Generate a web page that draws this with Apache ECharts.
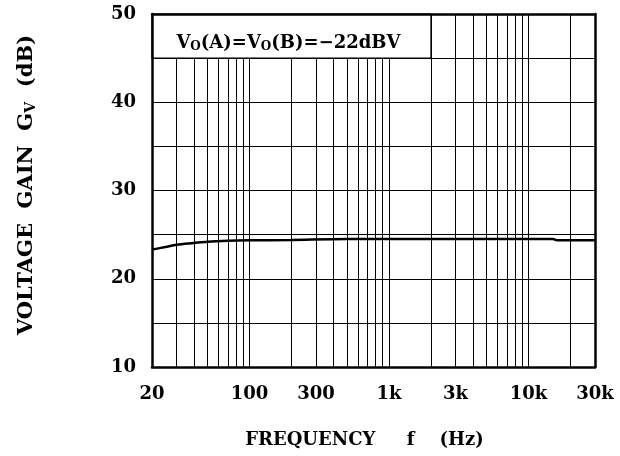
<!DOCTYPE html>
<html>
<head>
<meta charset="utf-8">
<script src="https://cdn.jsdelivr.net/npm/echarts@6/dist/echarts.min.js"></script>
<style>
html,body{margin:0;padding:0;background:#fff;}
#chart{width:620px;height:456px;}
</style>
</head>
<body>
<div id="chart"></div>
<script>
// ---- data ----
const freqHz   = [20, 25, 30, 40, 50, 70, 100, 200, 500, 1000, 5000, 15000, 16000, 30000];
const gainDb   = [23.3, 23.6, 23.85, 24.05, 24.2, 24.3, 24.35, 24.4, 24.5, 24.5, 24.5, 24.5, 24.35, 24.35];
const xTickValues = [20, 100, 300, 1000, 3000, 10000, 30000];
const xTickLabels = ['20', '100', '300', '1k', '3k', '10k', '30k'];
const xGridValues = [30, 40, 50, 60, 70, 80, 90, 100, 200, 300, 400, 500, 600, 700, 800, 900,
                     1000, 2000, 3000, 4000, 5000, 6000, 7000, 8000, 9000, 10000, 20000];
const yTickValues = [10, 20, 30, 40, 50];
const boxFreq = [20, 2000];
const boxGain = [45, 50];

const FONT = 'DejaVu Serif';
const chart = echarts.init(document.getElementById('chart'), null, {renderer: 'canvas'});

const frameAxis = {
  show: true,
  axisLine: {show: true, lineStyle: {color: '#000', width: 2.5}},
  axisTick: {show: false},
  axisLabel: {show: false},
  splitLine: {show: false},
  z: 10
};

chart.setOption({
  backgroundColor: '#fff',
  animation: false,
  grid: {left: 152, right: 25, top: 14, bottom: 89, containLabel: false},
  xAxis: [{
    type: 'log', logBase: 10, min: 20, max: 30000,
    position: 'bottom',
    name: 'FREQUENCY     f    (Hz)',
    nameLocation: 'middle', nameGap: 64,
    nameTextStyle: {fontFamily: FONT, fontWeight: 'bold', fontSize: 18, color: '#000', padding: [0, 18, 0, 0]},
    axisLine: {show: true, lineStyle: {color: '#000', width: 2.5}},
    axisTick: {show: false},
    splitLine: {show: false},
    axisLabel: {
      customValues: xTickValues,
      margin: 18,
      fontFamily: FONT, fontWeight: 'bold', fontSize: 18, color: '#000',
      formatter: function (v) {
        for (let i = 0; i < xTickValues.length; i++) {
          if (Math.abs(v - xTickValues[i]) / xTickValues[i] < 1e-6) return xTickLabels[i];
        }
        return '';
      }
    },
    z: 10
  }, Object.assign({type: 'log', logBase: 10, min: 20, max: 30000, position: 'top'}, frameAxis)],
  yAxis: [{
    type: 'value', min: 10, max: 50, interval: 5,
    position: 'left',
    name: 'VOLTAGE  GAIN  G{sub|V}  (dB)',
    nameLocation: 'middle', nameGap: 114, nameRotate: 90,
    nameTextStyle: {
      fontFamily: FONT, fontWeight: 'bold', fontSize: 21, color: '#000',
      padding: [0, 0, 0, 11],
      rich: {sub: {fontFamily: FONT, fontWeight: 'bold', fontSize: 14, color: '#000', padding: [9, 0, 0, 0]}}
    },
    axisLine: {show: true, lineStyle: {color: '#000', width: 2.5}},
    axisTick: {show: false},
    splitLine: {show: true, lineStyle: {color: '#000', width: 1}},
    axisLabel: {
      margin: 16,
      fontFamily: FONT, fontWeight: 'bold', fontSize: 18, color: '#000',
      formatter: function (v) { return yTickValues.indexOf(v) >= 0 ? String(v) : ''; }
    },
    z: 10
  }, Object.assign({type: 'value', min: 10, max: 50, position: 'right'}, frameAxis)],
  series: [{
    type: 'line',
    data: freqHz.map((f, i) => [f, gainDb[i]]),
    smooth: 0.3,
    symbol: 'none',
    lineStyle: {color: '#000', width: 2.5},
    z: 4,
    silent: true,
    markLine: {
      z: 3,
      silent: true,
      symbol: ['none', 'none'],
      label: {show: false},
      lineStyle: {color: '#000', width: 1, type: 'solid'},
      emphasis: {disabled: true},
      data: xGridValues.map(v => ({xAxis: v}))
    },
    markArea: {
      z: 6,
      silent: true,
      itemStyle: {color: '#fff', borderColor: '#000', borderWidth: 1.2},
      label: {
        show: true, position: 'inside', offset: [-3, 7],
        fontFamily: FONT, fontWeight: 'bold', fontSize: 18, color: '#000',
        formatter: 'V{sub|O}(A)=V{sub|O}(B)=\u221222dBV',
        rich: {sub: {fontFamily: FONT, fontWeight: 'bold', fontSize: 12, color: '#000', padding: [8, 0, 0, 0]}}
      },
      data: [[{xAxis: boxFreq[0], yAxis: boxGain[0]}, {xAxis: boxFreq[1], yAxis: boxGain[1]}]]
    }
  }]
});
</script>
</body>
</html>
